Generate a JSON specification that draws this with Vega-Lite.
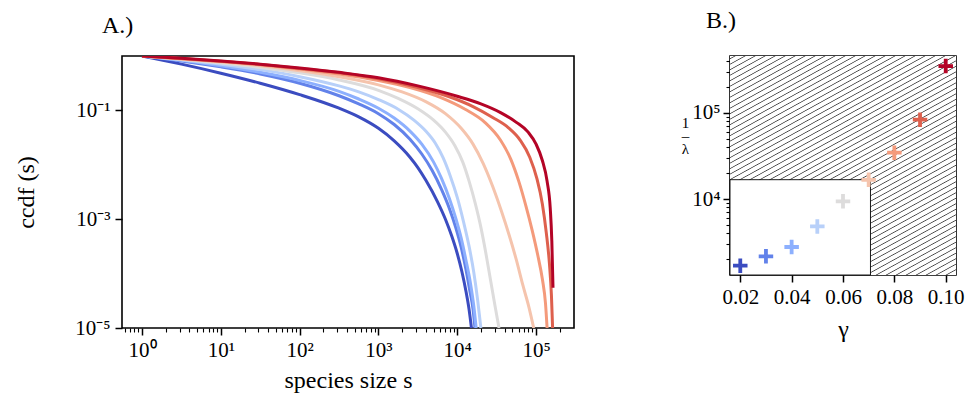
{
 "$schema": "https://vega.github.io/schema/vega-lite/v6.json",
 "padding": {"left": 13, "top": 8, "right": 2, "bottom": 2},
 "spacing": 105,
 "config": {
  "font": "Liberation Serif",
  "view": {"stroke": "black", "strokeWidth": 1.6},
  "axis": {"domain": false, "grid": false, "ticks": true, "tickColor": "black", "tickWidth": 1.5, "tickSize": 7, "labelFont": "Liberation Serif", "labelFontSize": 21, "labelColor": "black", "labelPadding": 4, "titleFont": "Liberation Serif", "titleFontSize": 24, "titleFontWeight": "normal", "titleColor": "black"},
  "title": {"font": "Liberation Serif", "fontSize": 24, "fontWeight": "normal", "anchor": "start", "color": "black", "frame": "group"}
 },
 "datasets": {
  "curves": [
   {"g":0.02,"s":1,"c":1},{"g":0.02,"s":3.162,"c":0.708},{"g":0.02,"s":10,"c":0.483},{"g":0.02,"s":31.62,"c":0.316},{"g":0.02,"s":100,"c":0.195},{"g":0.02,"s":316.2,"c":0.1096},{"g":0.02,"s":562.3,"c":0.0759},{"g":0.02,"s":1000,"c":0.0468},{"g":0.02,"s":1585,"c":0.0275},{"g":0.02,"s":2512,"c":0.0138},{"g":0.02,"s":3162,"c":0.00891},{"g":0.02,"s":3981,"c":0.00525},{"g":0.02,"s":5623,"c":0.00209},{"g":0.02,"s":7079,"c":0.001},{"g":0.02,"s":8511,"c":0.00049},{"g":0.02,"s":10000,"c":0.000234},{"g":0.02,"s":11480,"c":0.000107},{"g":0.02,"s":12880,"c":0.0000479},{"g":0.02,"s":14130,"c":0.0000219},{"g":0.02,"s":15140,"c":0.00001},
   {"g":0.03,"s":1,"c":1},{"g":0.03,"s":3.162,"c":0.813},{"g":0.03,"s":10,"c":0.631},{"g":0.03,"s":31.62,"c":0.468},{"g":0.03,"s":100,"c":0.316},{"g":0.03,"s":316.2,"c":0.186},{"g":0.03,"s":562.3,"c":0.1318},{"g":0.03,"s":1000,"c":0.0871},{"g":0.03,"s":1585,"c":0.055},{"g":0.03,"s":2512,"c":0.0295},{"g":0.03,"s":3548,"c":0.0158},{"g":0.03,"s":4786,"c":0.00794},{"g":0.03,"s":6310,"c":0.00355},{"g":0.03,"s":7943,"c":0.00158},{"g":0.03,"s":9550,"c":0.000708},{"g":0.03,"s":11220,"c":0.000302},{"g":0.03,"s":12880,"c":0.00012},{"g":0.03,"s":14450,"c":0.0000479},{"g":0.03,"s":15850,"c":0.0000224},{"g":0.03,"s":16790,"c":0.00001},
   {"g":0.04,"s":1,"c":1},{"g":0.04,"s":3.162,"c":0.832},{"g":0.04,"s":10,"c":0.661},{"g":0.04,"s":31.62,"c":0.501},{"g":0.04,"s":100,"c":0.355},{"g":0.04,"s":316.2,"c":0.224},{"g":0.04,"s":562.3,"c":0.162},{"g":0.04,"s":1000,"c":0.1096},{"g":0.04,"s":1585,"c":0.0724},{"g":0.04,"s":2512,"c":0.0417},{"g":0.04,"s":3548,"c":0.024},{"g":0.04,"s":5012,"c":0.0112},{"g":0.04,"s":6310,"c":0.00562},{"g":0.04,"s":7943,"c":0.0024},{"g":0.04,"s":9550,"c":0.00105},{"g":0.04,"s":11220,"c":0.000447},{"g":0.04,"s":12880,"c":0.000178},{"g":0.04,"s":14790,"c":0.0000631},{"g":0.04,"s":16220,"c":0.0000251},{"g":0.04,"s":17380,"c":0.00001},
   {"g":0.05,"s":1,"c":1},{"g":0.05,"s":3.162,"c":0.851},{"g":0.05,"s":10,"c":0.708},{"g":0.05,"s":31.62,"c":0.562},{"g":0.05,"s":100,"c":0.417},{"g":0.05,"s":316.2,"c":0.282},{"g":0.05,"s":562.3,"c":0.219},{"g":0.05,"s":1000,"c":0.158},{"g":0.05,"s":1778,"c":0.105},{"g":0.05,"s":2818,"c":0.0661},{"g":0.05,"s":3981,"c":0.0417},{"g":0.05,"s":5248,"c":0.0251},{"g":0.05,"s":6607,"c":0.0135},{"g":0.05,"s":8128,"c":0.00631},{"g":0.05,"s":10000,"c":0.00251},{"g":0.05,"s":12020,"c":0.000891},{"g":0.05,"s":14130,"c":0.000316},{"g":0.05,"s":16220,"c":0.000105},{"g":0.05,"s":18200,"c":0.0000316},{"g":0.05,"s":19950,"c":0.00001},
   {"g":0.06,"s":1,"c":1},{"g":0.06,"s":3.162,"c":0.871},{"g":0.06,"s":10,"c":0.741},{"g":0.06,"s":31.62,"c":0.617},{"g":0.06,"s":100,"c":0.49},{"g":0.06,"s":316.2,"c":0.363},{"g":0.06,"s":1000,"c":0.234},{"g":0.06,"s":1778,"c":0.166},{"g":0.06,"s":3162,"c":0.107},{"g":0.06,"s":5012,"c":0.0661},{"g":0.06,"s":7079,"c":0.0398},{"g":0.06,"s":9333,"c":0.0224},{"g":0.06,"s":11750,"c":0.0112},{"g":0.06,"s":14130,"c":0.00501},{"g":0.06,"s":16980,"c":0.00191},{"g":0.06,"s":19950,"c":0.000708},{"g":0.06,"s":22910,"c":0.000251},{"g":0.06,"s":26300,"c":0.0000794},{"g":0.06,"s":30200,"c":0.0000251},{"g":0.06,"s":33880,"c":0.00001},
   {"g":0.07,"s":1,"c":1},{"g":0.07,"s":3.162,"c":0.881},{"g":0.07,"s":10,"c":0.776},{"g":0.07,"s":31.62,"c":0.661},{"g":0.07,"s":100,"c":0.537},{"g":0.07,"s":316.2,"c":0.417},{"g":0.07,"s":1000,"c":0.295},{"g":0.07,"s":1995,"c":0.219},{"g":0.07,"s":3981,"c":0.145},{"g":0.07,"s":7079,"c":0.0871},{"g":0.07,"s":11220,"c":0.0468},{"g":0.07,"s":15850,"c":0.024},{"g":0.07,"s":21380,"c":0.0105},{"g":0.07,"s":28180,"c":0.00398},{"g":0.07,"s":36310,"c":0.00141},{"g":0.07,"s":45710,"c":0.000501},{"g":0.07,"s":56230,"c":0.000178},{"g":0.07,"s":67610,"c":0.0000631},{"g":0.07,"s":81280,"c":0.000024},{"g":0.07,"s":93330,"c":0.00001},
   {"g":0.08,"s":1,"c":1},{"g":0.08,"s":3.162,"c":0.891},{"g":0.08,"s":10,"c":0.794},{"g":0.08,"s":31.62,"c":0.692},{"g":0.08,"s":100,"c":0.575},{"g":0.08,"s":316.2,"c":0.468},{"g":0.08,"s":1000,"c":0.355},{"g":0.08,"s":2512,"c":0.263},{"g":0.08,"s":6310,"c":0.17},{"g":0.08,"s":12590,"c":0.105},{"g":0.08,"s":22390,"c":0.0603},{"g":0.08,"s":35480,"c":0.0282},{"g":0.08,"s":47860,"c":0.0126},{"g":0.08,"s":60260,"c":0.00501},{"g":0.08,"s":74130,"c":0.00178},{"g":0.08,"s":89130,"c":0.000631},{"g":0.08,"s":104700,"c":0.000224},{"g":0.08,"s":120200,"c":0.0000794},{"g":0.08,"s":131800,"c":0.0000282},{"g":0.08,"s":138000,"c":0.00001},
   {"g":0.09,"s":1,"c":1},{"g":0.09,"s":3.162,"c":0.902},{"g":0.09,"s":10,"c":0.804},{"g":0.09,"s":31.62,"c":0.7},{"g":0.09,"s":100,"c":0.589},{"g":0.09,"s":316.2,"c":0.49},{"g":0.09,"s":1000,"c":0.38},{"g":0.09,"s":3162,"c":0.263},{"g":0.09,"s":7943,"c":0.178},{"g":0.09,"s":15850,"c":0.1175},{"g":0.09,"s":28180,"c":0.0741},{"g":0.09,"s":44670,"c":0.0479},{"g":0.09,"s":63100,"c":0.0282},{"g":0.09,"s":83180,"c":0.0138},{"g":0.09,"s":102300,"c":0.00562},{"g":0.09,"s":120200,"c":0.00191},{"g":0.09,"s":134900,"c":0.000562},{"g":0.09,"s":147900,"c":0.000151},{"g":0.09,"s":156700,"c":0.0000398},{"g":0.09,"s":162200,"c":0.00001},
   {"g":0.1,"s":1,"c":1},{"g":0.1,"s":3.162,"c":0.912},{"g":0.1,"s":10,"c":0.813},{"g":0.1,"s":31.62,"c":0.708},{"g":0.1,"s":100,"c":0.603},{"g":0.1,"s":316.2,"c":0.501},{"g":0.1,"s":1000,"c":0.398},{"g":0.1,"s":3162,"c":0.282},{"g":0.1,"s":10000,"c":0.182},{"g":0.1,"s":19950,"c":0.132},{"g":0.1,"s":35480,"c":0.0912},{"g":0.1,"s":56230,"c":0.0603},{"g":0.1,"s":79430,"c":0.0398},{"g":0.1,"s":100000,"c":0.024},{"g":0.1,"s":120200,"c":0.012},{"g":0.1,"s":138000,"c":0.00501},{"g":0.1,"s":151400,"c":0.00158},{"g":0.1,"s":158500,"c":0.000398},{"g":0.1,"s":164100,"c":0.000055}
  ],
  "pts": [
   {"g":0.02,"il":1690},{"g":0.03,"il":2170},{"g":0.04,"il":2780},{"g":0.05,"il":4820},{"g":0.06,"il":9400},{"g":0.07,"il":16700},{"g":0.08,"il":34400},{"g":0.09,"il":83000},{"g":0.1,"il":347000}
  ],
  "hatch": [{"x1":0.016,"x2":0.104,"y1":1318,"y2":454000}],
  "allowed": [{"x1":0.016,"x2":0.0707,"y1":1318,"y2":16750}]
 },
 "hconcat": [
  {
   "width": 452, "height": 272,
   "title": {"text": "A.)", "dx": -20, "offset": 18},
   "data": {"name": "curves"},
   "layer": [
    {
     "mark": {"type": "line", "strokeWidth": 3, "interpolate": "monotone", "clip": true},
     "encoding": {
      "x": {"field": "s", "type": "quantitative", "scale": {"type": "log", "domain": [0.557, 303000], "nice": false},
            "axis": {"values": [1,10,100,1000,10000,100000], "labelExpr": "datum.value < 5 ? '10⁰' : datum.value < 50 ? '10¹' : datum.value < 500 ? '10²' : datum.value < 5000 ? '10³' : datum.value < 50000 ? '10⁴' : '10⁵'", "title": "species size s", "titlePadding": 8}},
      "y": {"field": "c", "type": "quantitative", "scale": {"type": "log", "domain": [0.00001, 1], "nice": false},
            "axis": {"values": [0.00001, 0.001, 0.1], "labelExpr": "datum.value < 0.0001 ? '10⁻⁵' : datum.value < 0.01 ? '10⁻³' : '10⁻¹'", "title": "ccdf (s)", "titlePadding": 36, "labelPadding": 5}},
      "color": {"field": "g", "type": "nominal", "scale": {"domain": [0.02,0.03,0.04,0.05,0.06,0.07,0.08,0.09,0.1], "range": ["#3b4cc0","#6282ea","#8db0fe","#b8d0f9","#dddcdc","#f5c4ad","#f49a7b","#de604d","#b40426"]}, "legend": null}
     }
    },
    {
     "mark": {"type": "point", "opacity": 0},
     "encoding": {
      "x": {"field": "s", "type": "quantitative", "axis": {"orient": "bottom", "values": [0.6,0.7,0.8,0.9,2,3,4,5,6,7,8,9,20,30,40,50,60,70,80,90,200,300,400,500,600,700,800,900,2000,3000,4000,5000,6000,7000,8000,9000,20000,30000,40000,50000,60000,70000,80000,90000,200000], "labels": false, "tickSize": 4, "tickWidth": 1.1, "title": null}}
     }
    }
   ],
   "resolve": {"axis": {"x": "independent"}}
  },
  {
   "width": 226, "height": 219,
   "title": {"text": "B.)", "dx": -24, "offset": 18},
   "layer": [
    {
     "data": {"name": "hatch"},
     "mark": {"type": "rect", "fill": {"gradient": "linear", "x1": 0, "y1": 0, "x2": 0.673, "y2": 1.186, "stops": [
      {"offset":0.0054,"color":"#fff"},{"offset":0.008,"color":"#444"},{"offset":0.0106,"color":"#fff"},
      {"offset":0.0214,"color":"#fff"},{"offset":0.024,"color":"#444"},{"offset":0.0266,"color":"#fff"},
      {"offset":0.0374,"color":"#fff"},{"offset":0.040,"color":"#444"},{"offset":0.0426,"color":"#fff"},
      {"offset":0.0534,"color":"#fff"},{"offset":0.056,"color":"#444"},{"offset":0.0586,"color":"#fff"},
      {"offset":0.0694,"color":"#fff"},{"offset":0.072,"color":"#444"},{"offset":0.0746,"color":"#fff"},
      {"offset":0.0854,"color":"#fff"},{"offset":0.088,"color":"#444"},{"offset":0.0906,"color":"#fff"},
      {"offset":0.1014,"color":"#fff"},{"offset":0.104,"color":"#444"},{"offset":0.1066,"color":"#fff"},
      {"offset":0.1174,"color":"#fff"},{"offset":0.120,"color":"#444"},{"offset":0.1226,"color":"#fff"},
      {"offset":0.1334,"color":"#fff"},{"offset":0.136,"color":"#444"},{"offset":0.1386,"color":"#fff"},
      {"offset":0.1494,"color":"#fff"},{"offset":0.152,"color":"#444"},{"offset":0.1546,"color":"#fff"},
      {"offset":0.1654,"color":"#fff"},{"offset":0.168,"color":"#444"},{"offset":0.1706,"color":"#fff"},
      {"offset":0.1814,"color":"#fff"},{"offset":0.184,"color":"#444"},{"offset":0.1866,"color":"#fff"},
      {"offset":0.1974,"color":"#fff"},{"offset":0.200,"color":"#444"},{"offset":0.2026,"color":"#fff"},
      {"offset":0.2134,"color":"#fff"},{"offset":0.216,"color":"#444"},{"offset":0.2186,"color":"#fff"},
      {"offset":0.2294,"color":"#fff"},{"offset":0.232,"color":"#444"},{"offset":0.2346,"color":"#fff"},
      {"offset":0.2454,"color":"#fff"},{"offset":0.248,"color":"#444"},{"offset":0.2506,"color":"#fff"},
      {"offset":0.2614,"color":"#fff"},{"offset":0.264,"color":"#444"},{"offset":0.2666,"color":"#fff"},
      {"offset":0.2774,"color":"#fff"},{"offset":0.280,"color":"#444"},{"offset":0.2826,"color":"#fff"},
      {"offset":0.2934,"color":"#fff"},{"offset":0.296,"color":"#444"},{"offset":0.2986,"color":"#fff"},
      {"offset":0.3094,"color":"#fff"},{"offset":0.312,"color":"#444"},{"offset":0.3146,"color":"#fff"},
      {"offset":0.3254,"color":"#fff"},{"offset":0.328,"color":"#444"},{"offset":0.3306,"color":"#fff"},
      {"offset":0.3414,"color":"#fff"},{"offset":0.344,"color":"#444"},{"offset":0.3466,"color":"#fff"},
      {"offset":0.3574,"color":"#fff"},{"offset":0.360,"color":"#444"},{"offset":0.3626,"color":"#fff"},
      {"offset":0.3734,"color":"#fff"},{"offset":0.376,"color":"#444"},{"offset":0.3786,"color":"#fff"},
      {"offset":0.3894,"color":"#fff"},{"offset":0.392,"color":"#444"},{"offset":0.3946,"color":"#fff"},
      {"offset":0.4054,"color":"#fff"},{"offset":0.408,"color":"#444"},{"offset":0.4106,"color":"#fff"},
      {"offset":0.4214,"color":"#fff"},{"offset":0.424,"color":"#444"},{"offset":0.4266,"color":"#fff"},
      {"offset":0.4374,"color":"#fff"},{"offset":0.440,"color":"#444"},{"offset":0.4426,"color":"#fff"},
      {"offset":0.4534,"color":"#fff"},{"offset":0.456,"color":"#444"},{"offset":0.4586,"color":"#fff"},
      {"offset":0.4694,"color":"#fff"},{"offset":0.472,"color":"#444"},{"offset":0.4746,"color":"#fff"},
      {"offset":0.4854,"color":"#fff"},{"offset":0.488,"color":"#444"},{"offset":0.4906,"color":"#fff"},
      {"offset":0.5014,"color":"#fff"},{"offset":0.504,"color":"#444"},{"offset":0.5066,"color":"#fff"},
      {"offset":0.5174,"color":"#fff"},{"offset":0.520,"color":"#444"},{"offset":0.5226,"color":"#fff"},
      {"offset":0.5334,"color":"#fff"},{"offset":0.536,"color":"#444"},{"offset":0.5386,"color":"#fff"},
      {"offset":0.5494,"color":"#fff"},{"offset":0.552,"color":"#444"},{"offset":0.5546,"color":"#fff"},
      {"offset":0.5654,"color":"#fff"},{"offset":0.568,"color":"#444"},{"offset":0.5706,"color":"#fff"},
      {"offset":0.5814,"color":"#fff"},{"offset":0.584,"color":"#444"},{"offset":0.5866,"color":"#fff"},
      {"offset":0.5974,"color":"#fff"},{"offset":0.600,"color":"#444"},{"offset":0.6026,"color":"#fff"},
      {"offset":0.6134,"color":"#fff"},{"offset":0.616,"color":"#444"},{"offset":0.6186,"color":"#fff"},
      {"offset":0.6294,"color":"#fff"},{"offset":0.632,"color":"#444"},{"offset":0.6346,"color":"#fff"},
      {"offset":0.6454,"color":"#fff"},{"offset":0.648,"color":"#444"},{"offset":0.6506,"color":"#fff"},
      {"offset":0.6614,"color":"#fff"},{"offset":0.664,"color":"#444"},{"offset":0.6666,"color":"#fff"},
      {"offset":0.6774,"color":"#fff"},{"offset":0.680,"color":"#444"},{"offset":0.6826,"color":"#fff"},
      {"offset":0.6934,"color":"#fff"},{"offset":0.696,"color":"#444"},{"offset":0.6986,"color":"#fff"},
      {"offset":0.7094,"color":"#fff"},{"offset":0.712,"color":"#444"},{"offset":0.7146,"color":"#fff"},
      {"offset":0.7254,"color":"#fff"},{"offset":0.728,"color":"#444"},{"offset":0.7306,"color":"#fff"},
      {"offset":0.7414,"color":"#fff"},{"offset":0.744,"color":"#444"},{"offset":0.7466,"color":"#fff"},
      {"offset":0.7574,"color":"#fff"},{"offset":0.760,"color":"#444"},{"offset":0.7626,"color":"#fff"},
      {"offset":0.7734,"color":"#fff"},{"offset":0.776,"color":"#444"},{"offset":0.7786,"color":"#fff"},
      {"offset":0.7894,"color":"#fff"},{"offset":0.792,"color":"#444"},{"offset":0.7946,"color":"#fff"},
      {"offset":0.8054,"color":"#fff"},{"offset":0.808,"color":"#444"},{"offset":0.8106,"color":"#fff"},
      {"offset":0.8214,"color":"#fff"},{"offset":0.824,"color":"#444"},{"offset":0.8266,"color":"#fff"},
      {"offset":0.8374,"color":"#fff"},{"offset":0.840,"color":"#444"},{"offset":0.8426,"color":"#fff"},
      {"offset":0.8534,"color":"#fff"},{"offset":0.856,"color":"#444"},{"offset":0.8586,"color":"#fff"},
      {"offset":0.8694,"color":"#fff"},{"offset":0.872,"color":"#444"},{"offset":0.8746,"color":"#fff"},
      {"offset":0.8854,"color":"#fff"},{"offset":0.888,"color":"#444"},{"offset":0.8906,"color":"#fff"},
      {"offset":0.9014,"color":"#fff"},{"offset":0.904,"color":"#444"},{"offset":0.9066,"color":"#fff"},
      {"offset":0.9174,"color":"#fff"},{"offset":0.920,"color":"#444"},{"offset":0.9226,"color":"#fff"},
      {"offset":0.9334,"color":"#fff"},{"offset":0.936,"color":"#444"},{"offset":0.9386,"color":"#fff"},
      {"offset":0.9494,"color":"#fff"},{"offset":0.952,"color":"#444"},{"offset":0.9546,"color":"#fff"},
      {"offset":0.9654,"color":"#fff"},{"offset":0.968,"color":"#444"},{"offset":0.9706,"color":"#fff"},
      {"offset":0.9814,"color":"#fff"},{"offset":0.984,"color":"#444"},{"offset":0.9866,"color":"#fff"}
     ]}},
     "encoding": {
      "x": {"field": "x1", "type": "quantitative", "scale": {"domain": [0.016, 0.104], "nice": false, "zero": false},
            "axis": {"values": [0.02,0.04,0.06,0.08,0.1], "format": ".2f", "title": "γ", "titlePadding": 10}},
      "x2": {"field": "x2"},
      "y": {"field": "y1", "type": "quantitative", "scale": {"type": "log", "domain": [1318, 454000], "nice": false},
            "axis": {"values": [10000, 100000], "labelExpr": "datum.value < 50000 ? '10⁴' : '10⁵'", "labelPadding": 3, "title": ["1", "–", "λ"], "titleAngle": 0, "titleAlign": "center", "titleBaseline": "alphabetic", "titleX": -45, "titleY": 71, "titleFontSize": 15, "titleLineHeight": 13}},
      "y2": {"field": "y2"}
     }
    },
    {
     "data": {"name": "allowed"},
     "mark": {"type": "rect", "fill": "white", "stroke": "black", "strokeWidth": 0.9},
     "encoding": {
      "x": {"field": "x1", "type": "quantitative", "axis": {"title": "γ"}},
      "x2": {"field": "x2"},
      "y": {"field": "y1", "type": "quantitative", "axis": null},
      "y2": {"field": "y2"}
     }
    },
    {
     "data": {"name": "pts"},
     "mark": {"type": "point", "shape": "M-1,0L1,0M0,-1L0,1", "filled": false, "size": 210, "strokeWidth": 3.8, "opacity": 1},
     "encoding": {
      "x": {"field": "g", "type": "quantitative", "axis": {"title": "γ"}},
      "y": {"field": "il", "type": "quantitative", "axis": null},
      "color": {"field": "g", "type": "nominal", "scale": {"domain": [0.02,0.03,0.04,0.05,0.06,0.07,0.08,0.09,0.1], "range": ["#3b4cc0","#6282ea","#8db0fe","#b8d0f9","#dddcdc","#f5c4ad","#f49a7b","#de604d","#b40426"]}, "legend": null}
     }
    },
    {
     "data": {"name": "pts"},
     "mark": {"type": "point", "opacity": 0},
     "encoding": {
      "y": {"field": "il", "type": "quantitative", "axis": {"orient": "left", "values": [2000,3000,4000,5000,6000,7000,8000,9000,20000,30000,40000,50000,60000,70000,80000,90000,200000,300000,400000], "labels": false, "tickSize": 4, "tickWidth": 1.1, "title": null}}
     }
    }
   ],
   "resolve": {"axis": {"y": "independent"}}
  }
 ]
}
